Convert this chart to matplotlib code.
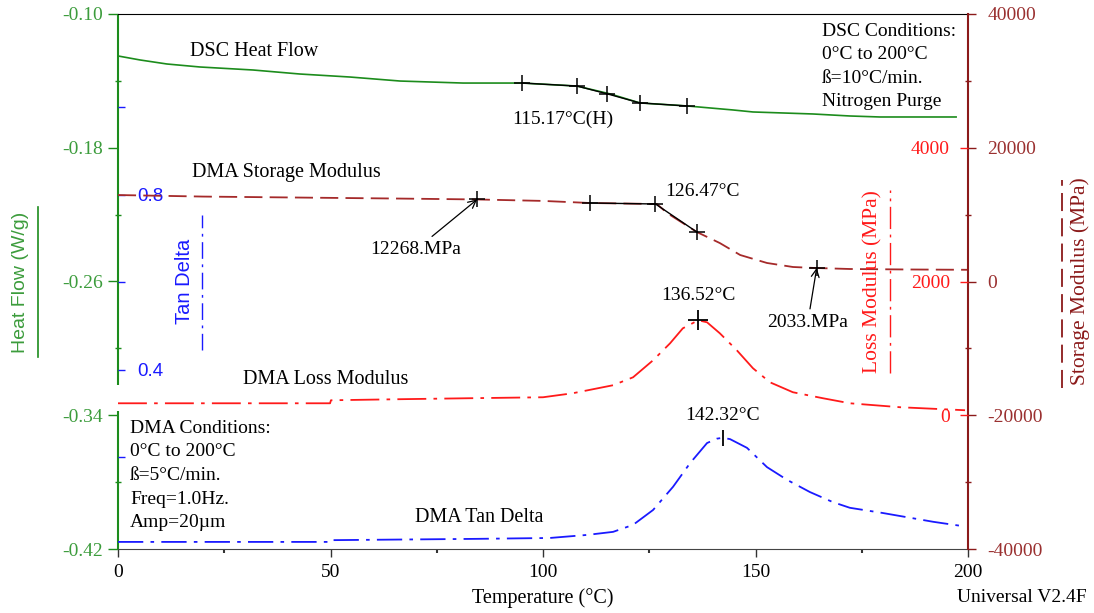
import numpy as np
import matplotlib.pyplot as plt
from matplotlib.lines import Line2D
from matplotlib.ticker import FixedLocator

plt.rcParams['font.family'] = ['Liberation Serif', 'DejaVu Serif']
plt.rcParams['axes.unicode_minus'] = False

# DSC heat flow (W/g)
dsc_T = [0, 5.2, 11.5, 19.3, 31.8, 42.8, 54.6, 66.4, 81.2, 95.1, 108.0, 115.8,
         122.8, 133.9, 144.7, 149.4, 163.5, 172.2, 179.3, 197.2]
dsc_hf = [-0.1251, -0.1275, -0.1299, -0.1317, -0.1335, -0.1359, -0.1377, -0.1401,
          -0.1413, -0.1413, -0.1431, -0.1478, -0.1532, -0.1550, -0.1574, -0.1586,
          -0.1598, -0.1610, -0.1616, -0.1616]
dsc_mark_T = [95.1, 108.0, 115.17, 122.8, 133.9]
dsc_mark_hf = [-0.1413, -0.1431, -0.1478, -0.1532, -0.1550]

# DMA storage modulus (MPa)
sm_T = [0, 20, 43, 66.4, 84.5, 100, 111, 120, 126.8, 129.2, 132.5, 136.2, 141.6,
        146.4, 152.7, 158.8, 163.5, 172.2, 185, 200]
sm_E = [12930, 12700, 12550, 12400, 12268, 12050, 11740, 11650, 11590, 10240,
        8900, 7400, 5750, 3960, 2770, 2170, 2033, 1870, 1800, 1750]
sm_mark_T = [111, 126.47, 136.2]
sm_mark_E = [11740, 11590, 7400]

# DMA loss modulus (MPa)
lm_T = [0, 49.9, 50.1, 66.4, 82.1, 100, 107, 116.5, 121.2, 125.9, 129.9, 132.9,
        136.52, 138.6, 141.6, 145.6, 149.4, 153.4, 158.8, 165.9, 172.2, 184, 199.3]
lm_E = [179, 179, 224, 240, 254, 269, 329, 449, 568, 822, 1076, 1300, 1420, 1390,
        1226, 972, 703, 493, 344, 254, 179, 120, 75]

# DMA tan delta
td_T = [0, 49.9, 50.1, 84.5, 101.6, 110.4, 116.5, 121.2, 125.9, 130.6, 134.6,
        138.6, 140.9, 142.32, 144, 148, 152.7, 157.4, 162.8, 168.2, 172.2, 180,
        191.8, 198.8]
td_v = [0.007, 0.007, 0.011, 0.014, 0.016, 0.023, 0.030, 0.046, 0.080, 0.133,
        0.187, 0.233, 0.243, 0.245, 0.242, 0.222, 0.178, 0.149, 0.121, 0.098,
        0.085, 0.073, 0.053, 0.043]

c_green = '#1c8c1c'
c_brown = '#a52a2a'
c_red = '#ff1a1a'
c_blue = '#1a1aff'
c_axis_r = '#8b1a1a'

fig = plt.figure(figsize=(10.94, 6.13), dpi=100)
ax = fig.add_axes([118 / 1094, 1 - 549 / 613, 850 / 1094, 535 / 613])
ax_td = ax.twinx()
ax_sm = ax.twinx()
ax_lm = ax.twinx()

# curves
ax.plot(dsc_T, dsc_hf, color=c_green, lw=1.2)
ax.plot(dsc_mark_T, dsc_mark_hf, color='black', lw=1.0, marker='+', ms=12, mew=1.1)

ax_sm.plot(sm_T, sm_E, color=c_brown, lw=1.3, dashes=(10, 4))
ax_sm.plot(sm_mark_T, sm_mark_E, color='black', lw=1.0, marker='+', ms=12, mew=1.1)
ax_sm.plot([84.5, 164.4], [12268, 2033], ls='none', color='black', marker='+', ms=12, mew=1.1)

ax_lm.plot(lm_T, lm_E, color=c_red, lw=1.3, dashes=(16, 4, 2, 4))
ax_lm.plot([136.52], [1420], ls='none', color='black', marker='+', ms=14, mew=1.3)

ax_td.plot(td_T, td_v, color=c_blue, lw=1.3, dashes=(14, 4, 2, 4))
ax_td.plot([142.32], [0.245], ls='none', color='black', marker='|', ms=12, mew=1.3)

# axis ranges
ax.set_xlim(0, 200)
ax.set_ylim(-0.42, -0.10)
ax_sm.set_ylim(-40000, 40000)
ax_lm.set_ylim(-2000, 6000)
ax_td.set_ylim(-0.0092, 1.2137)

# x axis
ax.set_xticks([0, 50, 100, 150, 200])
ax.xaxis.set_minor_locator(FixedLocator([25, 75, 125, 175]))
ax.tick_params(axis='x', which='major', direction='out', length=6, width=1,
               labelsize=14, pad=5, color='#333333')
ax.tick_params(axis='x', which='minor', direction='out', length=3, width=1.5, color='#333333')

# heat flow axis (left, green)
ax.set_yticks([-0.42, -0.34, -0.26, -0.18, -0.10])
ax.set_yticklabels(['-0.42', '-0.34', '-0.26', '-0.18', '-0.10'])
ax.yaxis.set_minor_locator(FixedLocator([-0.38, -0.30, -0.22, -0.14]))
ax.tick_params(axis='y', which='major', direction='out', length=7, width=1,
               color=c_green, labelcolor='#3c9c3c', labelsize=14, pad=4)
ax.tick_params(axis='y', which='minor', direction='inout', length=4, width=1, color=c_green)
ax.spines['left'].set_visible(False)
ax.spines['right'].set_visible(False)
ax.spines['top'].set_color('black')
ax.spines['bottom'].set_color('#444444')
for y0, y1 in [(0.0, 0.258), (0.3065, 1.0)]:
    ax.plot([0, 0], [y0, y1], transform=ax.transAxes, color=c_green, lw=1.5,
            clip_on=False, solid_capstyle='butt')

# tan delta axis (inside the left spine, blue)
ax_td.yaxis.tick_left()
ax_td.set_yticks([0.2, 0.4, 0.6, 0.8, 1.0])
ax_td.set_yticklabels(['', '0.4', '', '0.8', ''], family='Liberation Sans')
ax_td.tick_params(axis='y', direction='in', length=5, width=1, color=c_blue,
                  labelcolor=c_blue, labelsize=13.5, pad=-14)
plt.setp(ax_td.get_yticklabels(), ha='left')
for s in ax_td.spines.values():
    s.set_visible(False)

# storage modulus axis (right spine, dark red)
ax_sm.set_yticks([-40000, -20000, 0, 20000, 40000])
ax_sm.yaxis.set_minor_locator(FixedLocator([-30000, -10000, 10000, 30000]))
ax_sm.tick_params(axis='y', which='major', direction='out', length=6, width=1,
                  color=c_axis_r, labelcolor='#9a3030', labelsize=14, pad=8)
ax_sm.tick_params(axis='y', which='minor', direction='inout', length=5, width=1, color=c_axis_r)
for k in ['left', 'top', 'bottom']:
    ax_sm.spines[k].set_visible(False)
ax_sm.spines['right'].set_color(c_axis_r)
ax_sm.spines['right'].set_linewidth(1.5)

# loss modulus axis (inside the right spine, red)
ax_lm.set_yticks([0, 2000, 4000])
ax_lm.tick_params(axis='y', direction='in', length=6, width=1, color=c_red,
                  labelcolor=c_red, labelsize=14, pad=-13)
plt.setp(ax_lm.get_yticklabels(), ha='right')
for s in ax_lm.spines.values():
    s.set_visible(False)

# point annotations
fs_ann = 14
ax.annotate('115.17°C(H)', xy=(115.17, -0.1478), xytext=(-45, -25),
            textcoords='offset pixels', ha='center', va='center', fontsize=fs_ann)
ax_sm.annotate('126.47°C', xy=(126.47, 11590), xytext=(10, 12),
               textcoords='offset pixels', ha='left', va='center', fontsize=fs_ann)
ax_sm.annotate('12268.MPa', xy=(84.5, 12268), xytext=(-61, -50),
               textcoords='offset pixels', ha='center', va='center', fontsize=fs_ann,
               arrowprops=dict(arrowstyle='->', color='black', lw=0.9, shrinkA=2, shrinkB=0))
ax_sm.annotate('2033.MPa', xy=(164.4, 2033), xytext=(-9, -55),
               textcoords='offset pixels', ha='center', va='center', fontsize=fs_ann,
               arrowprops=dict(arrowstyle='->', color='black', lw=0.9, shrinkA=2, shrinkB=0))
ax_lm.annotate('136.52°C', xy=(136.52, 1420), xytext=(0, 25),
               textcoords='offset pixels', ha='center', va='center', fontsize=fs_ann)
ax_td.annotate('142.32°C', xy=(142.32, 0.245), xytext=(0, 22),
               textcoords='offset pixels', ha='center', va='center', fontsize=fs_ann)

# curve names and conditions
tr = ax.transAxes
fs_name = 14.5
ax.text(0.0847, 0.929, 'DSC Heat Flow', transform=tr, ha='left', va='center', fontsize=fs_name)
ax.text(0.0871, 0.703, 'DMA Storage Modulus', transform=tr, ha='left', va='center', fontsize=fs_name)
ax.text(0.147, 0.316, 'DMA Loss Modulus', transform=tr, ha='left', va='center', fontsize=fs_name)
ax.text(0.349, 0.058, 'DMA Tan Delta', transform=tr, ha='left', va='center', fontsize=fs_name)

dsc_cond = ['DSC Conditions:', '0°C to 200°C', 'ß=10°C/min.', 'Nitrogen Purge']
for i, line in enumerate(dsc_cond):
    ax.text(0.828, 0.968 - i * 0.044, line, transform=tr, ha='left', va='center', fontsize=14)
dma_cond = ['DMA Conditions:', '0°C to 200°C', 'ß=5°C/min.', 'Freq=1.0Hz.', 'Amp=20µm']
for i, line in enumerate(dma_cond):
    ax.text(0.0141, 0.226 - i * 0.0443, line, transform=tr, ha='left', va='center', fontsize=14)

# axis titles with line-style keys
fig.text(0.4963, 0.0245, 'Temperature (°C)', ha='center', va='center', fontsize=14.5)
fig.text(0.993, 0.0245, 'Universal V2.4F', ha='right', va='center', fontsize=14)
fig.text(0.0183, 0.540, 'Heat Flow (W/g)', rotation=90, ha='center', va='center',
         color='#3c9c3c', fontsize=14, family='Liberation Sans')
fig.text(0.169, 0.5416, 'Tan Delta', rotation=90, ha='center', va='center',
         color=c_blue, fontsize=14.5, family='Liberation Sans')
fig.text(0.798, 0.540, 'Loss Modulus (MPa)', rotation=90, ha='center', va='center',
         color=c_red, fontsize=15.5)
fig.text(0.987, 0.5416, 'Storage Modulus (MPa)', rotation=90, ha='center', va='center',
         color=c_axis_r, fontsize=15.5)

fig.add_artist(Line2D([0.0347, 0.0347], [0.4176, 0.6623], color=c_green, lw=1.2))
fig.add_artist(Line2D([0.1846, 0.1846], [0.429, 0.6493], color=c_blue, lw=1.0,
                      dashes=(12, 4, 2, 4)))
fig.add_artist(Line2D([0.8135, 0.8135], [0.3915, 0.690], color=c_red, lw=1.0,
                      dashes=(16, 4, 2, 4)))
fig.add_artist(Line2D([0.9707, 0.9707], [0.367, 0.7064], color=c_axis_r, lw=1.3,
                      dashes=(10, 4)))

fig.savefig('out.png', dpi=100)
